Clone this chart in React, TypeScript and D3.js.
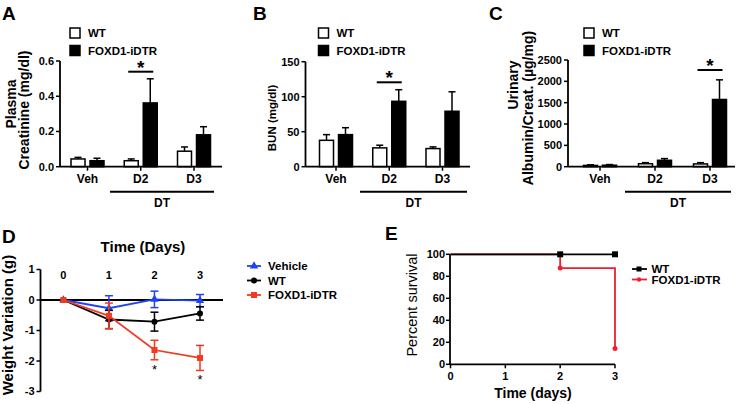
import React from 'react';
import * as d3 from 'd3';

const FONT = "'Liberation Sans', Arial, Helvetica, sans-serif";
const BLUE = '#1e43f2';
const RED_D = '#f23a22';
const RED_E = '#ee2030';

// ---- bar panels (A, B, C) ----
const barGroups = ['Veh', 'D2', 'D3'];

const creatWT = [0.044, 0.034, 0.088];
const creatWTTop = [0.053, 0.044, 0.112];
const creatKO = [0.034, 0.362, 0.181];
const creatKOTop = [0.048, 0.499, 0.227];
const creatTicks = [0, 0.2, 0.4, 0.6];

const bunWT = [37.7, 26.9, 25.9];
const bunWTTop = [45.8, 30.7, 28.3];
const bunKO = [45.8, 93.4, 79.2];
const bunKOTop = [55.7, 110, 107];
const bunTicks = [0, 50, 100, 150];

const acrWT = [30, 70, 65];
const acrWTTop = [45, 95, 95];
const acrKO = [35, 150, 1575];
const acrKOTop = [50, 190, 2035];
const acrTicks = [0, 500, 1000, 1500, 2000, 2500];

// ---- weight variation (D) ----
const days = [0, 1, 2, 3];
const vehMean = [0, -0.27, 0.02, -0.02];
const vehErr = [0, 0.41, 0.27, 0.2];
const wtMean = [0, -0.64, -0.71, -0.44];
const wtErr = [0, 0.3, 0.31, 0.22];
const koMean = [0, -0.52, -1.64, -1.9];
const koErr = [0, 0.42, 0.32, 0.41];
const weightTicks = [1, 0, -1, -2, -3];
const weightStarDays = [2, 3];

// ---- survival (E) ----
const survDays = [0, 2, 3];
const survWT = [100, 100, 100];
const survKO = [100, 87.5, 14.3];
const survTicksY = [0, 20, 40, 60, 80, 100];
const survTicksX = [0, 1, 2, 3];

const txt = (size: number, weight: string | number = 'bold') => ({
  fontFamily: FONT, fontSize: size, fontWeight: weight as any,
});

type BarProps = {
  letter: string; letterX: number;
  axisX: number; axisEnd: number; c0: number; c1: number;
  yTop: number; max: number; ticks: number[]; fmt: (v: number) => string;
  wt: number[]; wtTop: number[]; ko: number[]; koTop: number[];
  legendX: number; dt: [number, number]; sigGroup: string; sigY: number;
  ylabels: { text: string; x: number; y: number; size: number }[];
};

function BarPanel(p: BarProps) {
  const y0 = 166.7;
  const x = d3.scalePoint<string>().domain(barGroups).range([p.c0, p.c1]);
  const y = d3.scaleLinear().domain([0, p.max]).range([y0, p.yTop]);
  const bw = 14, gap = 2.5;
  const series = [
    { vals: p.wt, tops: p.wtTop, fill: '#fff', dx: -gap - bw },
    { vals: p.ko, tops: p.koTop, fill: '#000', dx: gap },
  ];
  const sx = x(p.sigGroup)!;
  return (
    <g>
      <text x={p.letterX} y={20} {...txt(19)}>{p.letter}</text>
      {p.ylabels.map((l, i) => (
        <text key={i} transform={`translate(${l.x},${l.y}) rotate(-90)`} textAnchor="middle" {...txt(l.size)}>{l.text}</text>
      ))}
      {/* legend */}
      <rect x={p.legendX} y={28} width={10} height={10} fill="#fff" stroke="#000" strokeWidth={1.5} />
      <text x={p.legendX + 18} y={37} {...txt(11.5)}>WT</text>
      <rect x={p.legendX} y={45.5} width={10} height={10} fill="#000" stroke="#000" strokeWidth={1.5} />
      <text x={p.legendX + 18} y={54.5} {...txt(11.5)}>FOXD1-iDTR</text>
      {/* bars */}
      {series.map((s, si) => barGroups.map((g, i) => {
        const bx = x(g)! + s.dx;
        const cx = bx + bw / 2;
        return (
          <g key={`${si}-${i}`}>
            <line x1={cx} x2={cx} y1={y(s.vals[i])} y2={y(s.tops[i])} stroke="#000" strokeWidth={1.5} />
            <line x1={cx - 3.5} x2={cx + 3.5} y1={y(s.tops[i])} y2={y(s.tops[i])} stroke="#000" strokeWidth={1.5} />
            <rect x={bx} y={y(s.vals[i])} width={bw} height={y0 - y(s.vals[i])} fill={s.fill} stroke="#000" strokeWidth={1.5} />
          </g>
        );
      }))}
      {/* axes */}
      <line x1={p.axisX} x2={p.axisX} y1={y(0)} y2={y(p.max)} stroke="#000" strokeWidth={1.8} />
      <line x1={p.axisX} x2={p.axisEnd} y1={y0} y2={y0} stroke="#000" strokeWidth={1.8} />
      {p.ticks.map(t => (
        <g key={t}>
          <line x1={p.axisX - 4} x2={p.axisX} y1={y(t)} y2={y(t)} stroke="#000" strokeWidth={1.5} />
          <text x={p.axisX - 6} y={y(t)} dy="0.36em" textAnchor="end" {...txt(11)}>{p.fmt(t)}</text>
        </g>
      ))}
      {barGroups.map(g => (
        <g key={g}>
          <line x1={x(g)} x2={x(g)} y1={y0} y2={y0 + 4} stroke="#000" strokeWidth={1.5} />
          <text x={x(g)} y={183} textAnchor="middle" {...txt(12)}>{g}</text>
        </g>
      ))}
      <line x1={p.dt[0]} x2={p.dt[1]} y1={191.7} y2={191.7} stroke="#000" strokeWidth={2} />
      <text x={(p.dt[0] + p.dt[1]) / 2} y={207} textAnchor="middle" {...txt(12)}>DT</text>
      {/* significance */}
      <line x1={sx - 12.5} x2={sx + 12.5} y1={p.sigY} y2={p.sigY} stroke="#000" strokeWidth={2} />
      <text x={sx} y={p.sigY + 2} textAnchor="middle" {...txt(19)}>*</text>
    </g>
  );
}

function Marker({ kind, x, y, color }: { kind: string; x: number; y: number; color: string }) {
  if (kind === 'tri') {
    const pts = d3.symbol(d3.symbolTriangle, 30)();
    return <path d={pts!} transform={`translate(${x},${y})`} fill={color} />;
  }
  if (kind === 'circle') return <circle cx={x} cy={y} r={3} fill={color} />;
  return <rect x={x - 3} y={y - 3} width={6} height={6} fill={color} />;
}

function WeightPanel() {
  const x = d3.scaleLinear().domain([0, 3]).range([63.4, 200]);
  const y = d3.scaleLinear().domain([1, -3]).range([269.5, 391.5]);
  const axisX = 40.5;
  const groups = [
    { name: 'Vehicle', mean: vehMean, err: vehErr, color: BLUE, kind: 'tri' },
    { name: 'WT', mean: wtMean, err: wtErr, color: '#000', kind: 'circle' },
    { name: 'FOXD1-iDTR', mean: koMean, err: koErr, color: RED_D, kind: 'square' },
  ];
  const line = d3.line<number>().x((_, i) => x(days[i])).y(v => y(v));
  return (
    <g>
      <text x={2} y={243} {...txt(19)}>D</text>
      <text x={143} y={252} textAnchor="middle" {...txt(15)}>Time (Days)</text>
      <text transform={`translate(13,325) rotate(-90)`} textAnchor="middle" {...txt(15)}>Weight Variation (g)</text>
      <line x1={axisX} x2={axisX} y1={y(1)} y2={y(-3)} stroke="#000" strokeWidth={1.8} />
      {weightTicks.map(t => (
        <g key={t}>
          <line x1={axisX - 4} x2={axisX} y1={y(t)} y2={y(t)} stroke="#000" strokeWidth={1.5} />
          <text x={axisX - 6} y={y(t)} dy="0.36em" textAnchor="end" {...txt(11)}>{t}</text>
        </g>
      ))}
      <line x1={axisX} x2={223} y1={y(0)} y2={y(0)} stroke="#000" strokeWidth={1.8} />
      {days.map(d => (
        <text key={d} x={x(d)} y={278.5} textAnchor="middle" {...txt(11)}>{d}</text>
      ))}
      {groups.map(g => (
        <g key={g.name}>
          {days.map((d, i) => g.err[i] > 0 && (
            <g key={d} stroke={g.color} strokeWidth={1.5}>
              <line x1={x(d)} x2={x(d)} y1={y(g.mean[i] + g.err[i])} y2={y(g.mean[i] - g.err[i])} />
              <line x1={x(d) - 4} x2={x(d) + 4} y1={y(g.mean[i] + g.err[i])} y2={y(g.mean[i] + g.err[i])} />
              <line x1={x(d) - 4} x2={x(d) + 4} y1={y(g.mean[i] - g.err[i])} y2={y(g.mean[i] - g.err[i])} />
            </g>
          ))}
          <path d={line(g.mean)!} fill="none" stroke={g.color} strokeWidth={1.8} />
          {days.map((d, i) => <Marker key={d} kind={g.kind} x={x(d)} y={y(g.mean[i])} color={g.color} />)}
        </g>
      ))}
      {weightStarDays.map(d => {
        const i = days.indexOf(d);
        return <text key={d} x={x(d)} y={y(koMean[i] - koErr[i]) + 14} textAnchor="middle" {...txt(13, 'normal')}>*</text>;
      })}
      {/* legend */}
      {groups.map((g, i) => {
        const ly = 266 + i * 14.5;
        return (
          <g key={g.name}>
            <line x1={247} x2={261} y1={ly} y2={ly} stroke={g.color} strokeWidth={1.8} />
            <Marker kind={g.kind} x={254} y={ly} color={g.color} />
            <text x={268} y={ly + 4} {...txt(11.5)}>{g.name}</text>
          </g>
        );
      })}
    </g>
  );
}

function SurvivalPanel() {
  const x = d3.scaleLinear().domain([0, 3]).range([450.5, 615]);
  const y = d3.scaleLinear().domain([0, 100]).range([364.3, 254.3]);
  const line = d3.line<number>().x((_, i) => x(survDays[i])).y(v => y(v)).curve(d3.curveStepAfter);
  const series = [
    { name: 'FOXD1-iDTR', vals: survKO, color: RED_E },
    { name: 'WT', vals: survWT, color: '#000' },
  ];
  return (
    <g>
      <text x={385} y={240} {...txt(19)}>E</text>
      <text transform={`translate(416.5,305) rotate(-90)`} textAnchor="middle" {...txt(14.5, 'normal')}>Percent survival</text>
      <line x1={450} x2={450} y1={y(0)} y2={y(100)} stroke="#000" strokeWidth={1.8} />
      {survTicksY.map(t => (
        <g key={t}>
          <line x1={446} x2={450} y1={y(t)} y2={y(t)} stroke="#000" strokeWidth={1.5} />
          <text x={445} y={y(t)} dy="0.36em" textAnchor="end" {...txt(11)}>{t}</text>
        </g>
      ))}
      <line x1={450} x2={615} y1={y(0)} y2={y(0)} stroke="#000" strokeWidth={1.8} />
      {survTicksX.map(t => (
        <g key={t}>
          <line x1={x(t)} x2={x(t)} y1={y(0)} y2={y(0) + 4} stroke="#000" strokeWidth={1.5} />
          <text x={x(t)} y={380} textAnchor="middle" {...txt(11)}>{t}</text>
        </g>
      ))}
      <text x={533} y={398} textAnchor="middle" {...txt(14)}>Time (days)</text>
      {series.map(s => (
        <g key={s.name}>
          <path d={line(s.vals)!} fill="none" stroke={s.color} strokeWidth={1.8} />
          {survDays.map((d, i) => d > 0 && (
            s.name === 'WT'
              ? <rect key={d} x={x(d) - 3} y={y(s.vals[i]) - 3} width={6} height={6} fill={s.color} />
              : <circle key={d} cx={x(d)} cy={y(s.vals[i])} r={2.5} fill={s.color} />
          ))}
        </g>
      ))}
      {/* legend */}
      {[series[1], series[0]].map((s, i) => {
        const ly = 269 + i * 10.5;
        return (
          <g key={s.name}>
            <line x1={632} x2={647} y1={ly} y2={ly} stroke={s.color} strokeWidth={1.8} />
            {s.name === 'WT'
              ? <rect x={636.5} y={ly - 2.5} width={5} height={5} fill={s.color} />
              : <circle cx={639} cy={ly} r={2.2} fill={s.color} />}
            <text x={651.5} y={ly + 4} {...txt(11.5)}>{s.name}</text>
          </g>
        );
      })}
    </g>
  );
}

export default function App() {
  const f1 = d3.format('.1f');
  const f0 = d3.format('d');
  return (
    <svg width={736} height={404} style={{ position: 'absolute', left: 0, top: 0, background: '#fff' }}>
      <rect width={736} height={404} fill="#fff" />
      <BarPanel letter="A" letterX={2} axisX={60} axisEnd={222} c0={87.5} c1={194}
        yTop={61} max={0.6} ticks={creatTicks} fmt={f1}
        wt={creatWT} wtTop={creatWTTop} ko={creatKO} koTop={creatKOTop}
        legendX={70} dt={[110, 214]} sigGroup="D2" sigY={71.7}
        ylabels={[{ text: 'Plasma', x: 16, y: 104, size: 14 }, { text: 'Creatinine (mg/dl)', x: 29, y: 110, size: 14 }]} />
      <BarPanel letter="B" letterX={253} axisX={305.5} axisEnd={470} c0={336} c1={442.5}
        yTop={61.7} max={150} ticks={bunTicks} fmt={f0}
        wt={bunWT} wtTop={bunWTTop} ko={bunKO} koTop={bunKOTop}
        legendX={318.5} dt={[360, 467]} sigGroup="D2" sigY={82.3}
        ylabels={[{ text: 'BUN (mg/dl)', x: 276, y: 118, size: 11.5 }]} />
      <BarPanel letter="C" letterX={489} axisX={568} axisEnd={735} c0={600} c1={710}
        yTop={60} max={2500} ticks={acrTicks} fmt={f0}
        wt={acrWT} wtTop={acrWTTop} ko={acrKO} koTop={acrKOTop}
        legendX={584} dt={[625, 731]} sigGroup="D3" sigY={70}
        ylabels={[{ text: 'Urinary', x: 518, y: 85, size: 14 }, { text: 'Albumin/Creat. (µg/mg)', x: 533, y: 108, size: 14 }]} />
      <WeightPanel />
      <SurvivalPanel />
    </svg>
  );
}
